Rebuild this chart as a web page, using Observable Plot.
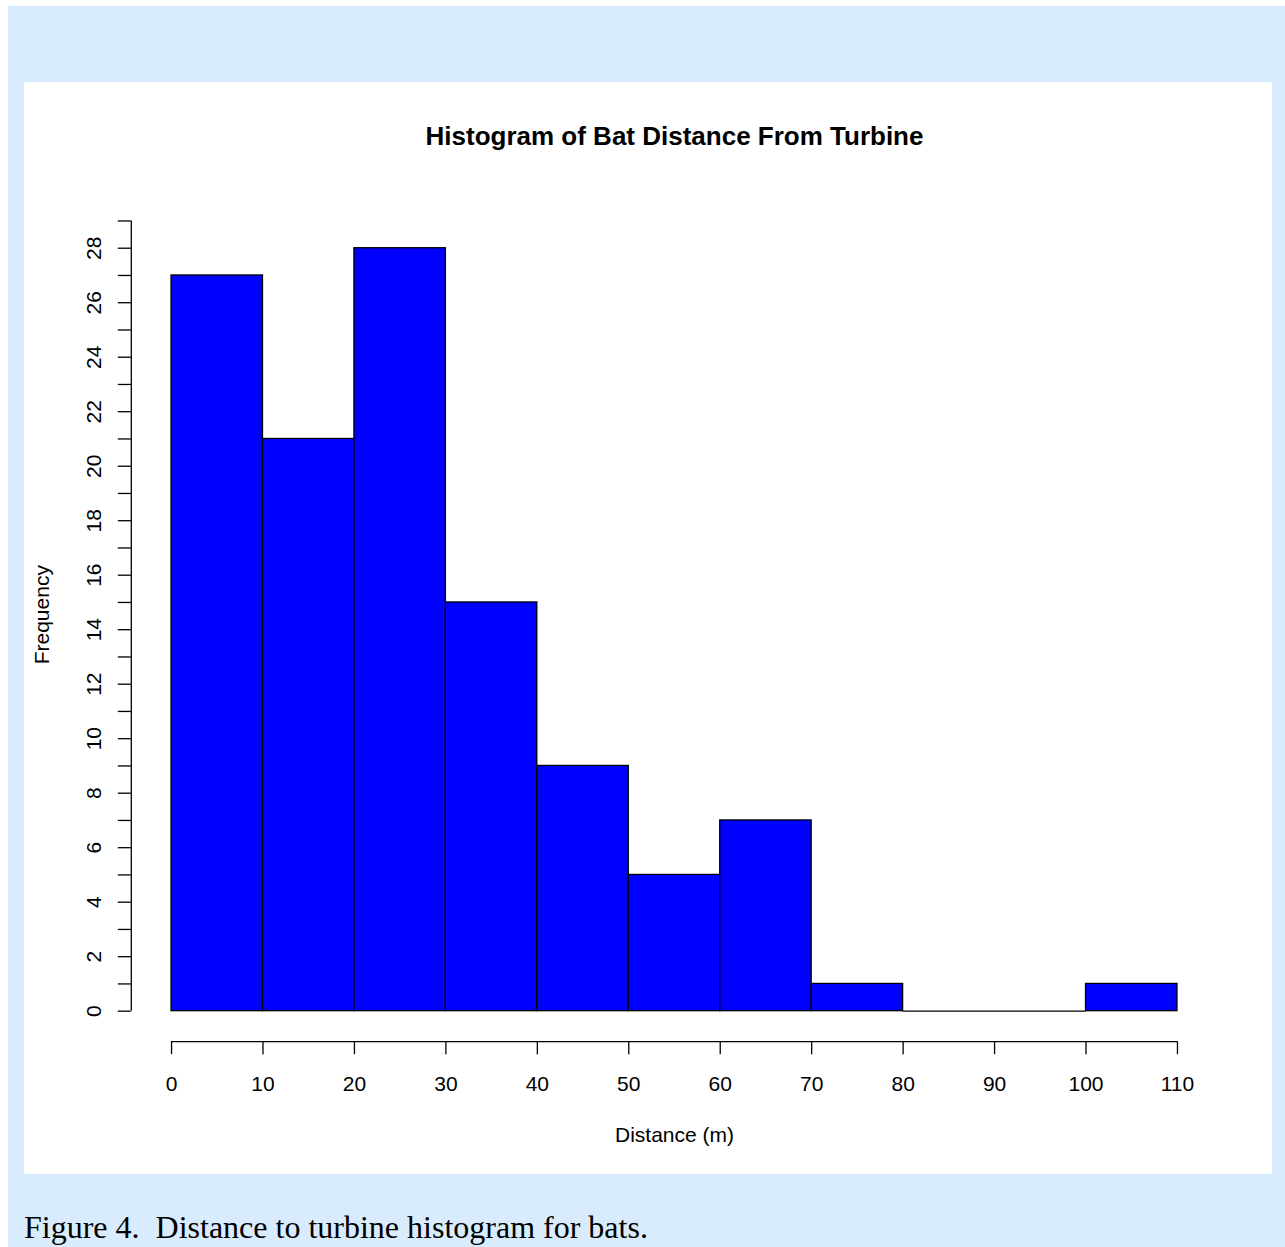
<!DOCTYPE html>
<html>
<head>
<meta charset="utf-8">
<script src="https://cdn.jsdelivr.net/npm/d3@7"></script>
<script src="https://cdn.jsdelivr.net/npm/@observablehq/plot@0.6"></script>
<style>
html, body { margin: 0; padding: 0; background: #ffffff; width: 1285px; height: 1247px; overflow: hidden; }
#bg { position: absolute; left: 8px; top: 6px; width: 1277px; height: 1241px; background: #d9ecfd; }
#panel { position: absolute; left: 24px; top: 82px; width: 1248px; height: 1092px; background: #ffffff; }
#panel svg { display: block; }
#caption { position: absolute; left: 24px; top: 1211px; font-family: "Liberation Serif", "Times New Roman", serif; font-size: 32px; line-height: 32px; color: #000; white-space: pre; }
</style>
</head>
<body>
<div id="bg"></div>
<div id="panel"></div>
<div id="caption"></div>
<script>
// ---- data ----
const titleText = "Histogram of Bat Distance From Turbine";
const xLabel = "Distance (m)";
const yLabel = "Frequency";
const captionText = "Figure 4.\u00a0 Distance to turbine histogram for bats.";
const binStarts = [0, 10, 20, 30, 40, 50, 60, 70, 80, 90, 100];
const binEnds = [10, 20, 30, 40, 50, 60, 70, 80, 90, 100, 110];
const counts = [27, 21, 28, 15, 9, 5, 7, 1, 0, 0, 1];
const xTicks = [0, 10, 20, 30, 40, 50, 60, 70, 80, 90, 100, 110];
const yTicks = [0, 1, 2, 3, 4, 5, 6, 7, 8, 9, 10, 11, 12, 13, 14, 15, 16, 17, 18, 19, 20, 21, 22, 23, 24, 25, 26, 27, 28, 29];
const yTickLabels = [0, 2, 4, 6, 8, 10, 12, 14, 16, 18, 20, 22, 24, 26, 28];

// ---- build ----
const bins = binStarts.map((s, i) => ({x1: s, x2: binEnds[i], count: counts[i]}));
const xMin = d3.min(binStarts), xMax = d3.max(binEnds);
const yMin = 0, yMax = d3.max(counts);
const xPad = 0.04 * (xMax - xMin), yPad = 0.04 * (yMax - yMin);
const xDomain = [xMin - xPad, xMax + xPad];
const yDomain = [yMin - yPad, yMax + yPad];

const lw = 1.3;
const font = "'Liberation Sans', Arial, Helvetica, sans-serif";

const chart = Plot.plot({
  width: 1248,
  height: 1092,
  marginLeft: 106.8,
  marginRight: 54.8,
  marginTop: 135.2,
  marginBottom: 132.8,
  style: {fontFamily: font, fontSize: "21px", color: "#000", background: "transparent"},
  x: {domain: xDomain},
  y: {domain: yDomain},
  marks: [
    Plot.rectY(bins, {x1: "x1", x2: "x2", y1: 0, y2: "count", fill: "#0000ff", stroke: "#000", strokeWidth: lw, insetLeft: 0, insetRight: 0}),
    Plot.ruleY(bins.filter(d => d.count === 0), {y: "count", x1: "x1", x2: "x2", stroke: "#000", strokeWidth: lw}),
    // y axis
    Plot.ruleX([xDomain[0]], {y1: yTicks[0], y2: yTicks[yTicks.length - 1], stroke: "#000", strokeWidth: lw}),
    Plot.axisY(yTicks, {anchor: "left", tickSize: 13, fill: "none", label: null, strokeWidth: lw}),
    Plot.text(yTickLabels, {y: d => d, text: d => String(d), frameAnchor: "left", textAnchor: "middle", rotate: -90, lineAnchor: "bottom", dx: -30, fontSize: 21, fill: "#000"}),
    // x axis
    Plot.ruleY([yDomain[0]], {x1: xTicks[0], x2: xTicks[xTicks.length - 1], stroke: "#000", strokeWidth: lw}),
    Plot.axisX(xTicks, {anchor: "bottom", tickSize: 13, tickPadding: 21, fontSize: 21, label: null, strokeWidth: lw, tickFormat: d => String(d)}),
    // labels
    Plot.text([titleText], {frameAnchor: "top", lineAnchor: "bottom", dy: -73, fontSize: 26, fontWeight: "bold", fill: "#000"}),
    Plot.text([xLabel], {frameAnchor: "bottom", lineAnchor: "bottom", dy: 100, fontSize: 21, fill: "#000"}),
    Plot.text([yLabel], {frameAnchor: "left", textAnchor: "middle", rotate: -90, lineAnchor: "bottom", dx: -82, dy: -15, fontSize: 21, fill: "#000"})
  ]
});
document.getElementById("panel").appendChild(chart);
document.getElementById("caption").textContent = captionText;
</script>
</body>
</html>
